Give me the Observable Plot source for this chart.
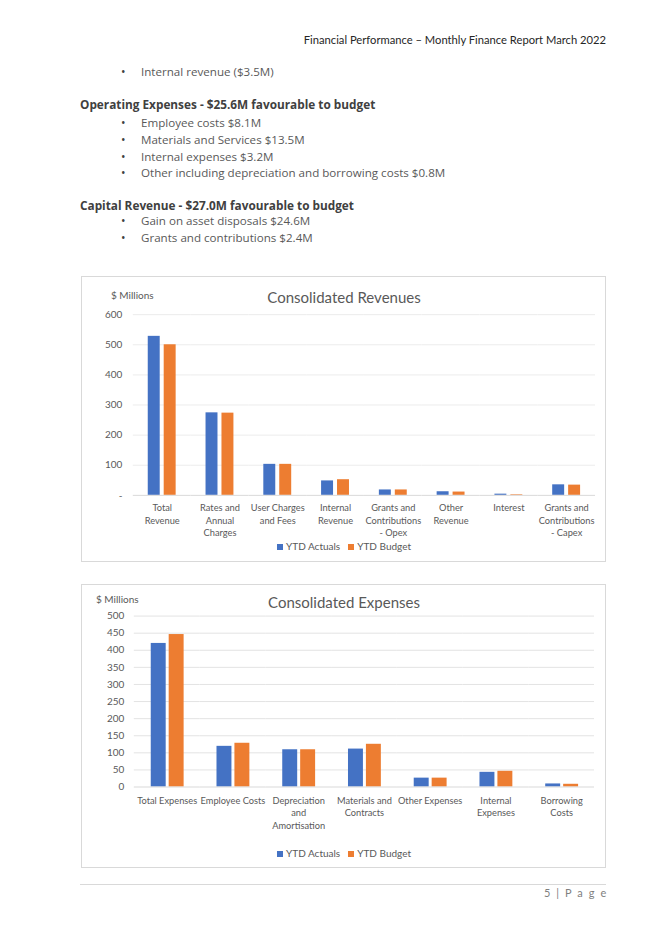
<!DOCTYPE html>
<html><head><meta charset="utf-8">
<script src="https://cdn.jsdelivr.net/npm/d3@7"></script>
<script src="https://cdn.jsdelivr.net/npm/@observablehq/plot@0.6"></script>
<style>
body{margin:0;background:#fff;width:670px;height:947px;position:relative;overflow:hidden;font-family:"Open Sans",sans-serif}
.abs{position:absolute;white-space:nowrap;line-height:16px}
.hdr{font-family:"Lato",sans-serif;font-size:11.2px;color:#262626}
.bul{font-size:11.6px;color:#595959}
.dot{font-size:12px;color:#404040}
.head{font-size:11.8px;font-weight:bold;color:#404040}
.box{position:absolute;border:1px solid #d9d9d9;box-sizing:border-box;background:#fff}
.box svg{position:absolute;left:0;top:0}
.ctitle{position:absolute;font-family:"Lato",sans-serif;font-size:15px;color:#595959;white-space:nowrap;transform:translateX(-50%);line-height:18px}
.units{position:absolute;font-family:"Lato",sans-serif;font-size:10px;color:#595959;white-space:nowrap;line-height:12px}
.legend{position:absolute;font-family:"Lato",sans-serif;font-size:10px;color:#595959;white-space:nowrap;transform:translateX(-50%);line-height:12px}
.legend span.sw{display:inline-block;width:6px;height:6px;margin-right:3px;vertical-align:0px}
.legend span.it{margin:0 4px}
.foot{position:absolute;font-family:"Lato",sans-serif;font-size:11px;color:#7f7f7f;letter-spacing:1.6px;white-space:nowrap}
</style></head><body>
<script>
// ---------- data ----------
const revCategories = ["Total Revenue","Rates and Annual Charges","User Charges and Fees","Internal Revenue","Grants and Contributions - Opex","Other Revenue","Interest","Grants and Contributions - Capex"];
const revTickLabels = ["Total\nRevenue","Rates and\nAnnual\nCharges","User Charges\nand Fees","Internal\nRevenue","Grants and\nContributions\n- Opex","Other\nRevenue","Interest","Grants and\nContributions\n- Capex"];
const revActuals = [528, 274, 103, 48, 18, 12, 4, 35];
const revBudget  = [500, 273, 103, 52, 18, 11, 2, 34];
const revTicks = [0, 100, 200, 300, 400, 500, 600];

const expCategories = ["Total Expenses","Employee Costs","Depreciation and Amortisation","Materials and Contracts","Other Expenses","Internal Expenses","Borrowing Costs"];
const expTickLabels = ["Total Expenses","Employee Costs","Depreciation\nand\nAmortisation","Materials and\nContracts","Other Expenses","Internal\nExpenses","Borrowing\nCosts"];
const expActuals = [420, 119, 109, 111, 26, 43, 9];
const expBudget  = [446, 128, 109, 125, 26, 46, 8];
const expTicks = [0, 50, 100, 150, 200, 250, 300, 350, 400, 450, 500];

const seriesNames = ["YTD Actuals", "YTD Budget"];
const seriesColors = ["#4472C4", "#ED7D31"];

// ---------- page text ----------
function addText(cls, left, top, text) {
  const d = document.createElement("div");
  d.className = "abs " + cls;
  d.style.left = left + "px"; d.style.top = top + "px";
  d.textContent = text;
  document.body.appendChild(d);
  return d;
}
const hdr = addText("hdr", 0, 32, "Financial Performance – Monthly Finance Report March 2022");
hdr.style.left = "auto"; hdr.style.right = (670 - 606) + "px";
function bullet(top, text) {
  addText("dot", 121, top, "•");
  addText("bul", 141, top, text);
}
bullet(64, "Internal revenue ($3.5M)");
addText("head", 80, 96, "Operating Expenses - $25.6M favourable to budget");
bullet(115, "Employee costs $8.1M");
bullet(132, "Materials and Services $13.5M");
bullet(149, "Internal expenses $3.2M");
bullet(165, "Other including depreciation and borrowing costs $0.8M");
addText("head", 80, 197, "Capital Revenue - $27.0M favourable to budget");
bullet(213, "Gain on asset disposals $24.6M");
bullet(230, "Grants and contributions $2.4M");

// ---------- charts ----------
function makeChart(o) {
  const box = document.createElement("div");
  box.className = "box";
  Object.assign(box.style, {left: o.left + "px", top: o.top + "px", width: o.width + "px", height: o.height + "px"});
  document.body.appendChild(box);

  const data = o.cats.flatMap((c, i) => [
    {cat: c, series: seriesNames[0], v: o.actual[i]},
    {cat: c, series: seriesNames[1], v: o.budget[i]}
  ]);
  const svg = Plot.plot({
    width: o.width, height: o.height,
    marginTop: o.mt, marginBottom: o.mb, marginLeft: o.ml, marginRight: o.mr,
    style: {fontFamily: "Lato, sans-serif", fontSize: "10px", color: "#595959", background: "transparent", overflow: "visible"},
    fx: {domain: o.cats, padding: 0, label: null},
    x: {domain: seriesNames, paddingInner: o.pi, paddingOuter: o.po, axis: null},
    y: {domain: [0, o.yMax]},
    color: {domain: seriesNames, range: seriesColors},
    marks: [
      Plot.ruleY(o.ticks.filter(t => t > 0), {stroke: o.grid, strokeWidth: 1}),
      Plot.barY(data, {fx: "cat", x: "series", y: "v", fill: "series"}),
      Plot.ruleY([0], {stroke: "#d9d9d9", strokeWidth: 1}),
      Plot.axisY({ticks: o.ticks, tickSize: 0, tickPadding: o.tpY, tickFormat: o.yFmt, label: null, fill: "#595959", fontSize: 10}),
      Plot.axisFx({anchor: "bottom", tickSize: 0, tickPadding: o.tpX, label: null, lineHeight: 1.35, fill: "#595959", fontSize: 9.3,
        tickFormat: d => o.labels[o.cats.indexOf(d)]})
    ]
  });
  box.appendChild(svg);

  const t = document.createElement("div");
  t.className = "ctitle"; t.textContent = o.title;
  t.style.left = o.titleX + "px"; t.style.top = o.titleY + "px";
  box.appendChild(t);
  const u = document.createElement("div");
  u.className = "units"; u.textContent = "$ Millions";
  u.style.left = o.unitsX + "px"; u.style.top = o.unitsY + "px";
  box.appendChild(u);
  const lg = document.createElement("div");
  lg.className = "legend";
  lg.innerHTML = seriesNames.map((s, i) => `<span class="it"><span class="sw" style="background:${seriesColors[i]}"></span>${s}</span>`).join("");
  lg.style.left = o.legendX + "px"; lg.style.top = o.legendY + "px";
  box.appendChild(lg);
}

makeChart({
  left: 81, top: 276, width: 525, height: 286,
  mt: 37.3, mb: 67.3, ml: 49, mr: 8,
  cats: revCategories, labels: revTickLabels, actual: revActuals, budget: revBudget,
  ticks: revTicks, yMax: 600, yFmt: d => d === 0 ? "-" : String(d),
  pi: 0.235, po: 0.838, tpY: 11, tpX: 7, grid: "#ececec",
  title: "Consolidated Revenues", titleX: 262, titleY: 11,
  unitsX: 29, unitsY: 12, legendX: 262, legendY: 263
});

makeChart({
  left: 81, top: 584, width: 525, height: 284,
  mt: 30.7, mb: 81.7, ml: 50, mr: 9,
  cats: expCategories, labels: expTickLabels, actual: expActuals, budget: expBudget,
  ticks: expTicks, yMax: 500, yFmt: d => String(d),
  pi: 0.19, po: 0.895, tpY: 10, tpX: 8, grid: "#e3e3e3",
  title: "Consolidated Expenses", titleX: 262, titleY: 8,
  unitsX: 14, unitsY: 8, legendX: 262, legendY: 262
});

// ---------- footer ----------
const rule = document.createElement("div");
Object.assign(rule.style, {position: "absolute", left: "80px", top: "884px", width: "526px", height: "1px", background: "#d9d9d9"});
document.body.appendChild(rule);
const ft = document.createElement("div");
ft.className = "foot"; ft.textContent = "5 | P a g e";
Object.assign(ft.style, {right: (670 - 608) + "px", top: "886px"});
document.body.appendChild(ft);
</script>
</body></html>
